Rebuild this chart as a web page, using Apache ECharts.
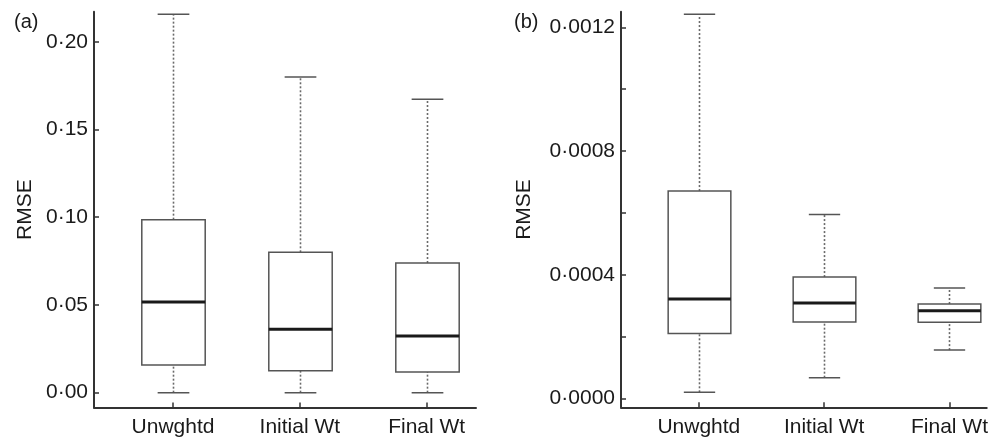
<!DOCTYPE html>
<html><head><meta charset="utf-8">
<script src="https://cdn.jsdelivr.net/npm/echarts@6/dist/echarts.min.js"></script>
<style>html,body{margin:0;padding:0;background:#fff}#c{width:991px;height:440px}</style>
</head><body><div id="c"></div>
<script>
const categories = ['Unwghtd', 'Initial Wt', 'Final Wt'];
// Panel (a): [min, Q1, median, Q3, max]
const boxesA = [
  [0.0000, 0.0158, 0.0517, 0.0986, 0.2156],
  [0.0000, 0.0125, 0.0361, 0.0800, 0.1799],
  [0.0000, 0.0118, 0.0323, 0.0739, 0.1672]
];
// Panel (b): [min, Q1, median, Q3, max]
const boxesB = [
  [0.0000207, 0.000211, 0.000322, 0.000671, 0.001242],
  [0.0000679, 0.000248, 0.000309, 0.000393, 0.000595],
  [0.000157, 0.000247, 0.000284, 0.000306, 0.000358]
];
const ticksA = [0, 0.05, 0.10, 0.15, 0.20];
const labelsA = [0, 0.05, 0.10, 0.15, 0.20];
const ticksB = [0, 0.0002, 0.0004, 0.0006, 0.0008, 0.0010, 0.0012];
const labelsB = [0, 0.0004, 0.0008, 0.0012];
const catPos = [1, 2, 3];

const FONT = '"Liberation Sans", Arial, sans-serif';
const TXT = '#1a1a1a';
const AX = '#333333';

function toRows(boxes) { return boxes.map((b, i) => [catPos[i]].concat(b)); }

function renderBox(params, api) {
  const x = api.value(0);
  const pMin = api.coord([x, api.value(1)]);
  const pQ1 = api.coord([x, api.value(2)]);
  const pMed = api.coord([x, api.value(3)]);
  const pQ3 = api.coord([x, api.value(4)]);
  const pMax = api.coord([x, api.value(5)]);
  const hb = api.size([0.25, 0])[0];
  const hc = api.size([0.125, 0])[0];
  const cx = Math.round(pMed[0]) + 0.5;
  const dot = { stroke: '#6a6a6a', lineWidth: 1.6, lineDash: [2, 2] };
  const solid = { stroke: '#555555', lineWidth: 1.5 };
  return {
    type: 'group',
    children: [
      { type: 'line', shape: { x1: cx, y1: pQ3[1], x2: cx, y2: pMax[1] }, style: dot },
      { type: 'line', shape: { x1: cx, y1: pMin[1], x2: cx, y2: pQ1[1] }, style: dot },
      { type: 'line', shape: { x1: cx - hc, y1: pMax[1], x2: cx + hc, y2: pMax[1] }, style: solid },
      { type: 'line', shape: { x1: cx - hc, y1: pMin[1], x2: cx + hc, y2: pMin[1] }, style: solid },
      { type: 'rect', shape: { x: cx - hb, y: pQ3[1], width: 2 * hb, height: pQ1[1] - pQ3[1] },
        style: { fill: '#ffffff', stroke: '#555555', lineWidth: 1.5 } },
      { type: 'line', shape: { x1: cx - hb, y1: pMed[1], x2: cx + hb, y2: pMed[1] },
        style: { stroke: '#1a1a1a', lineWidth: 3 } }
    ]
  };
}

function xAxisDef(gi, min, max) {
  return {
    type: 'value', gridIndex: gi, min: min, max: max,
    splitLine: { show: false },
    axisLine: { show: true, onZero: false, lineStyle: { color: AX, width: 2 } },
    axisTick: { show: true, inside: true, length: 5, customValues: catPos, lineStyle: { color: AX, width: 1.5 } },
    axisLabel: { customValues: catPos, formatter: v => categories[Math.round(v) - 1], color: TXT,
      fontFamily: FONT, fontSize: 21, margin: 9 }
  };
}
function yAxisDef(gi, min, max, ticks, labels, dec, gap) {
  return {
    type: 'value', gridIndex: gi, min: min, max: max,
    name: 'RMSE', nameLocation: 'middle', nameGap: gap,
    nameTextStyle: { color: TXT, fontFamily: FONT, fontSize: 21 },
    splitLine: { show: false },
    axisLine: { show: true, onZero: false, lineStyle: { color: AX, width: 2 } },
    axisTick: { show: true, inside: true, length: 5, customValues: ticks, lineStyle: { color: AX, width: 1.5 } },
    axisLabel: { customValues: labels, formatter: v => v.toFixed(dec).replace('.', '\u00B7'),
      color: TXT, fontFamily: FONT, fontSize: 21, margin: 6 }
  };
}

const chart = echarts.init(document.getElementById('c'), null, { renderer: 'canvas' });
chart.setOption({
  animation: false,
  backgroundColor: '#ffffff',
  grid: [
    { left: 94, width: 382, top: 11.7, height: 395.8 },
    { left: 621, right: 0, top: 11.7, height: 395.6 }
  ],
  xAxis: [xAxisDef(0, 0.377, 3.389), xAxisDef(1, 0.379, 3.297)],
  yAxis: [
    yAxisDef(0, -0.00845, 0.2171, ticksA, labelsA, 2, 58),
    yAxisDef(1, -0.0000278, 0.0012504, ticksB, labelsB, 4, 86)
  ],
  graphic: [
    { type: 'text', left: 14, top: 12, style: { text: '(a)', font: '20px ' + FONT, fill: TXT } },
    { type: 'text', left: 514, top: 12, style: { text: '(b)', font: '20px ' + FONT, fill: TXT } }
  ],
  series: [
    { type: 'custom', xAxisIndex: 0, yAxisIndex: 0, data: toRows(boxesA),
      encode: { x: 0, y: [1, 2, 3, 4, 5] }, renderItem: renderBox },
    { type: 'custom', xAxisIndex: 1, yAxisIndex: 1, data: toRows(boxesB),
      encode: { x: 0, y: [1, 2, 3, 4, 5] }, renderItem: renderBox }
  ]
});
</script></body></html>
